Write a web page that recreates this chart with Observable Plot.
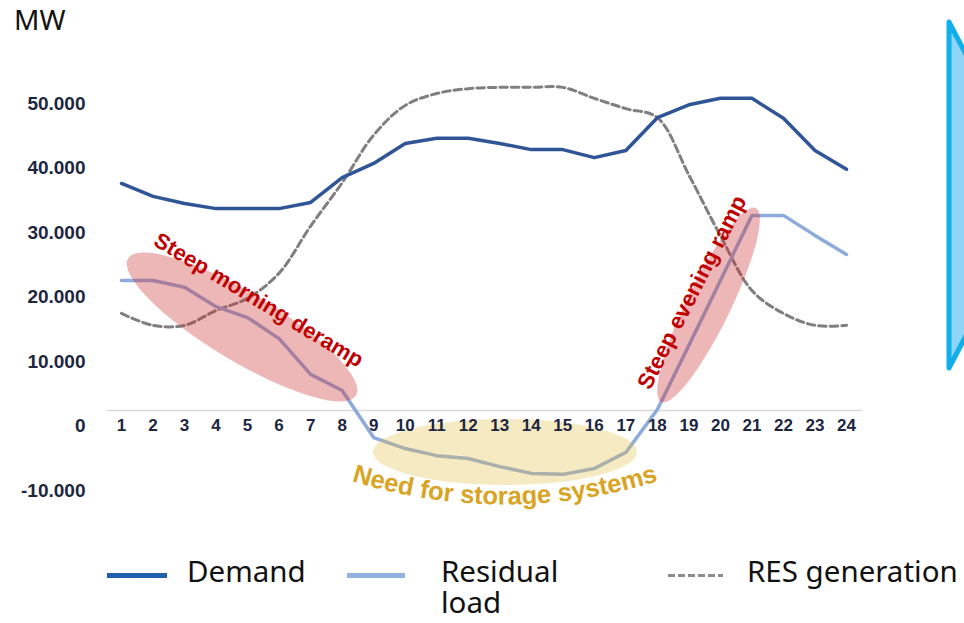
<!DOCTYPE html>
<html><head><meta charset="utf-8">
<script src="https://cdn.jsdelivr.net/npm/d3@7"></script>
<script src="https://cdn.jsdelivr.net/npm/@observablehq/plot@0.6"></script>
<style>
body{margin:0;background:#fff;}
#wrap{position:relative;width:964px;height:623px;overflow:hidden;background:#fff;}
#chart{position:absolute;left:0;top:0;}
.lab{position:absolute;font-family:"Noto Sans",sans-serif;color:#111;white-space:nowrap;}
.leg{font-size:29.5px;line-height:35px;}
.sw{position:absolute;}
</style></head><body>
<div id="wrap">
  <div id="chart"></div>
  <div class="lab" style="left:14px;top:3px;font-size:28px;line-height:32px;">MW</div>
  <div class="sw" style="left:107px;top:573px;width:60px;height:5px;background:#1f5fab;"></div>
  <div class="lab leg" style="left:187px;top:553px;">Demand</div>
  <div class="sw" style="left:347px;top:573px;width:58px;height:5px;background:#93b2df;"></div>
  <div class="lab leg" style="left:441px;top:556px;line-height:29px;">Residual</div>
  <div class="lab leg" style="left:441px;top:587px;line-height:29px;">load</div>
  <div class="sw" style="left:668px;top:574px;width:55px;height:3px;background:repeating-linear-gradient(90deg,#8c8c8c 0 7px,transparent 7px 10px);"></div>
  <div class="lab leg" style="left:747px;top:553px;">RES generation</div>
  <svg style="position:absolute;left:940px;top:15px;" width="24" height="360">
    <polygon points="9,7 50,85 50,275 9,353" fill="#8fd5f5" stroke="#10aeea" stroke-width="5" stroke-linejoin="round"/>
  </svg>
</div>
<script>
// ---- data ----
const hours = [1,2,3,4,5,6,7,8,9,10,11,12,13,14,15,16,17,18,19,20,21,22,23,24];
const demand = [35200,33200,32100,31300,31300,31300,32250,36100,38300,41400,42200,42200,41400,40450,40450,39200,40300,45400,47400,48400,48400,45300,40300,37400];
const residual = [20150,20150,19100,16100,14400,11150,5600,3100,-4200,-5900,-7000,-7450,-8700,-9750,-9900,-9000,-6500,150,10100,20150,30250,30250,27150,24200];
const resGeneration = [15050,13200,13200,15500,17400,21300,28600,35300,42700,47300,49150,49900,50100,50100,50100,48400,46800,45400,36500,27100,18600,15050,13200,13200];
const yTicks = [-10000,0,10000,20000,30000,40000,50000];
const annotationLabels = ["Steep morning deramp","Steep evening ramp","Need for storage systems"];

const rows = hours.map((h,i)=>({hour:h, demand:demand[i], residual:residual[i], res:resGeneration[i]}));
const fmt = v => (v<0?"-":"") + d3.format(",")(Math.abs(v)).replace(/,/g,".");

// annotation geometry (anchored in data space)
const ellipses = [
  {hour:4.84, mw:12870, rx:133, ry:34, rotate:31, fill:"rgb(205,50,50)", op:0.35},
  {hour:19.64, mw:16280, rx:108, ry:22, rotate:-64, fill:"rgb(205,50,50)", op:0.35},
  {hour:13.18, mw:-6510, rx:132, ry:33, rotate:0, fill:"rgb(225,190,70)", op:0.33}
];
function ellipseMark(index, scales){
  const {x, y} = scales;
  const g = d3.create("svg:g");
  for (const e of ellipses){
    g.append("ellipse")
      .attr("transform", `translate(${x(e.hour)},${y(e.mw)}) rotate(${e.rotate})`)
      .attr("rx", e.rx).attr("ry", e.ry)
      .attr("fill", e.fill).attr("fill-opacity", e.op);
  }
  return g.node();
}
function arcTextMark(index, scales){
  const {x, y} = scales;
  const cx = x(13.15), cy = y(-14500);
  const g = d3.create("svg:g").attr("transform", `translate(${cx},${cy})`);
  g.append("path").attr("id","storageArc").attr("d","M-175,-30 Q0,32 177,-30").attr("fill","none");
  g.append("text")
    .attr("font-family","Liberation Sans, Arial, sans-serif")
    .attr("font-weight","bold").attr("font-size",25.5).attr("fill","#d9a423")
    .append("textPath").attr("href","#storageArc").attr("startOffset","50%").attr("text-anchor","middle")
    .text(annotationLabels[2]);
  return g.node();
}

const chart = Plot.plot({
  width: 964, height: 540,
  marginLeft: 121, marginRight: 118, marginTop: 23, marginBottom: 33.25,
  x: {domain:[1,24], axis:null},
  y: {domain:[-15000,60000], axis:null},
  style: {fontFamily:"Liberation Sans, Arial, sans-serif", background:"white", overflow:"visible"},
  marks: [
    Plot.ruleY([0], {x1:0.55, x2:24.5, stroke:"#d9d9d9", strokeWidth:1.5}),
    Plot.line(rows, {x:"hour", y:"res", stroke:"#7f7f7f", strokeWidth:3, strokeDasharray:"7.5,4", curve:"catmull-rom"}),
    Plot.line(rows, {x:"hour", y:"demand", stroke:"#2f5597", strokeWidth:3.5}),
    Plot.line(rows, {x:"hour", y:"residual", stroke:"#8eaadb", strokeWidth:3.5}),
    ellipseMark,
    Plot.text(yTicks, {frameAnchor:"left", y:d=>d, text:fmt, dx:-36, dy:15.5, textAnchor:"end", fontSize:19, fontWeight:"bold", fill:"#1d2640"}),
    Plot.text(hours, {x:d=>d, y:d=>0, text:d=>String(d), dy:15, fontSize:17, fontWeight:"bold", fill:"#1d2640"}),
    Plot.text([annotationLabels[0]], {x:d=>5.35, y:d=>17100, text:d=>d, rotate:31, fontSize:22, fontWeight:"bold", fill:"#c00000"}),
    Plot.text([annotationLabels[1]], {x:d=>19.1, y:d=>18300, text:d=>d, rotate:-63, fontSize:22.5, fontWeight:"bold", fill:"#c00000"}),
    arcTextMark
  ]
});
document.getElementById("chart").appendChild(chart);
</script>
</body></html>
